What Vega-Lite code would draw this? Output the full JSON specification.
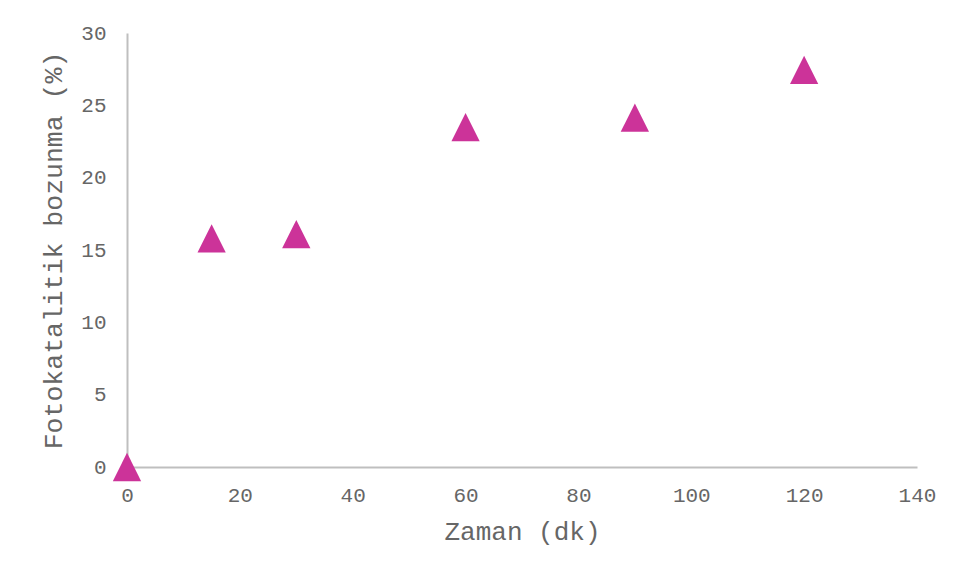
{
  "$schema": "https://vega.github.io/schema/vega-lite/v6.json",
  "width": 790,
  "height": 434,
  "autosize": "none",
  "padding": {"left": 127, "top": 33, "right": 38, "bottom": 114},
  "background": "white",
  "config": {"view": {"stroke": null}},
  "data": {"values": [
    {"t": 0, "d": 0},
    {"t": 15, "d": 15.8},
    {"t": 30, "d": 16.1},
    {"t": 60, "d": 23.5},
    {"t": 90, "d": 24.15},
    {"t": 120, "d": 27.45}
  ]},
  "mark": {"type": "point", "shape": "M0,-1L1,1L-1,1Z", "filled": true, "size": 800, "color": "#CC3399", "opacity": 1},
  "encoding": {
    "x": {"field": "t", "type": "quantitative", "title": "Zaman (dk)",
      "scale": {"domain": [0, 140], "nice": false, "zero": false},
      "axis": {"values": [0, 20, 40, 60, 80, 100, 120, 140], "grid": false, "ticks": false, "domainColor": "#BFBFBF", "domainWidth": 2,
        "labelFlush": false, "labelOverlap": false,
        "labelFont": "Liberation Mono", "labelFontSize": 21, "labelColor": "#666666", "labelPadding": 17,
        "titleFont": "Liberation Mono", "titleFontSize": 26, "titleFontWeight": "normal", "titleColor": "#666666", "titlePadding": 13}},
    "y": {"field": "d", "type": "quantitative", "title": "Fotokatalitik bozunma (%)",
      "scale": {"domain": [0, 30], "nice": false},
      "axis": {"values": [0, 5, 10, 15, 20, 25, 30], "grid": false, "ticks": false, "domainColor": "#BFBFBF", "domainWidth": 2,
        "labelFlush": false, "labelOverlap": false,
        "labelFont": "Liberation Mono", "labelFontSize": 21, "labelColor": "#666666", "labelPadding": 21,
        "titleFont": "Liberation Mono", "titleFontSize": 26.5, "titleFontWeight": "normal", "titleColor": "#666666", "titlePadding": 13}}
  }
}
